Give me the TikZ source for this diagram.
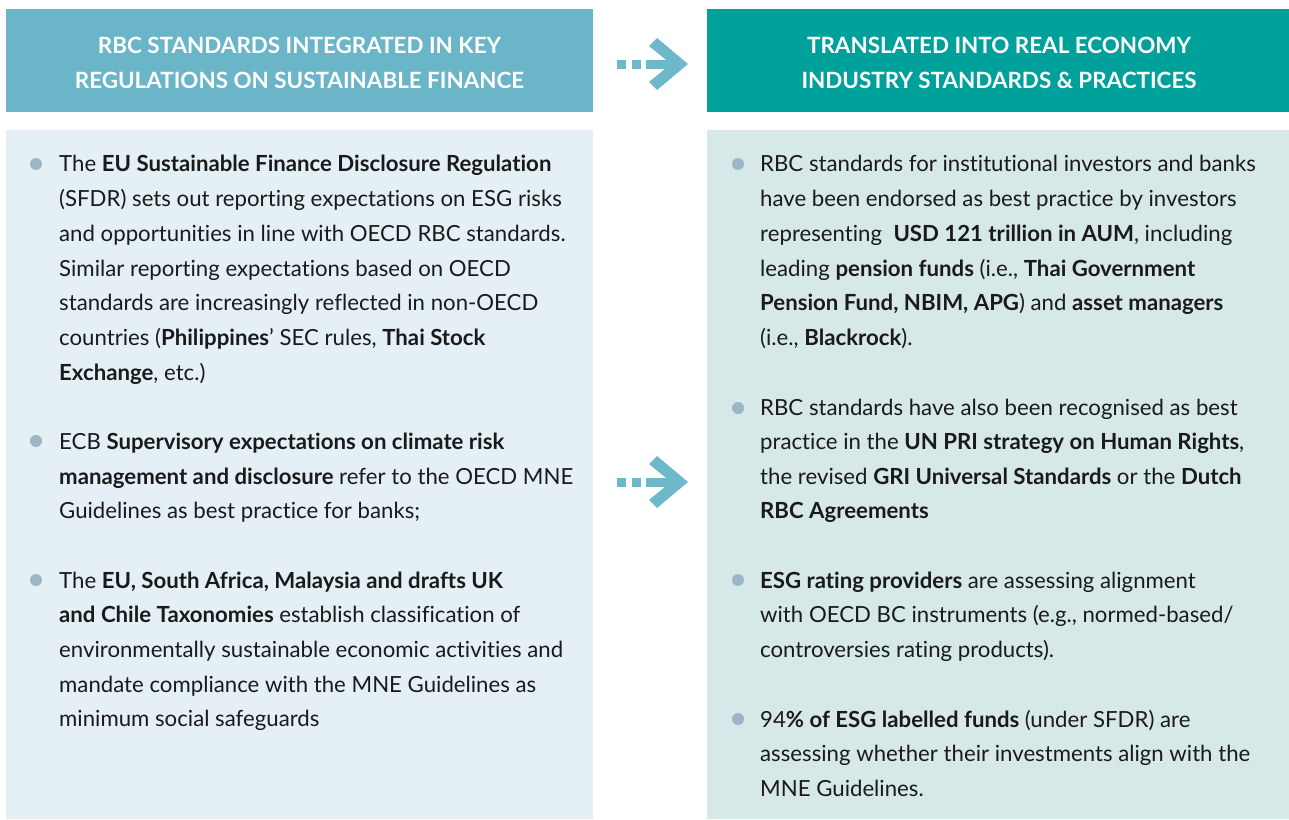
\documentclass[tikz,border=0pt]{standalone}
\usepackage{fontspec}
\setmainfont{Lato}[Ligatures=NoCommon]
\definecolor{hdrblue}{HTML}{6AB5C8}
\definecolor{hdrteal}{HTML}{00A19A}
\definecolor{bodyblue}{HTML}{E4F0F5}
\definecolor{bodyteal}{HTML}{D6E8E8}
\definecolor{bulletc}{HTML}{9DB6C6}
\definecolor{arrowc}{HTML}{6DB8CA}
\definecolor{txt}{HTML}{1A1A1A}
\tikzset{
  ln/.style={anchor=base west, inner sep=0pt, text=txt, font=\fontsize{22.2}{30}\selectfont},
  hd/.style={anchor=base, inner sep=0pt, text=white, font=\fontsize{22.4}{30}\selectfont\bfseries},
  dot/.style={circle, fill=bulletc, minimum size=12pt, inner sep=0pt},
}
\newcommand{\mkarrow}[1]{%
  \begin{scope}[yshift=#1]
    \fill[arrowc] (617,59.5) rectangle (626,68.5);
    \fill[arrowc] (632,59.5) rectangle (641,68.5);
    \fill[arrowc] (646,59.5) rectangle (674,68.5);
    \fill[arrowc] (649,46) -- (657,38) -- (688,64) -- (657,90) -- (649,82) -- (671,64) -- cycle;
  \end{scope}}
\begin{document}
\begin{tikzpicture}[x=1pt,y=-1pt]
\useasboundingbox (0,0) rectangle (1289,819);
\fill[white] (0,0) rectangle (1289,819);
% boxes
\fill[hdrblue] (6,9) rectangle (593,112);
\fill[hdrteal] (707,9) rectangle (1289,112);
\fill[bodyblue] (6,130) rectangle (593,819);
\fill[bodyteal] (707,130) rectangle (1289,819);
% headers
\node[hd] (h1a) at (299.5,53) {RBC STANDARDS INTEGRATED IN KEY};
\node[hd] (h1b) at (299.5,88) {REGULATIONS ON SUSTAINABLE FINANCE};
\node[hd] (h2a) at (999,53) {TRANSLATED INTO REAL ECONOMY};
\node[hd] (h2b) at (999,88) {INDUSTRY STANDARDS \& PRACTICES};
% arrows
\mkarrow{0}
\mkarrow{-418}
% left bullets
\node[dot] (lb1) at (36,164) {};
\node[dot] (lb2) at (36,441) {};
\node[dot] (lb3) at (36,580) {};
\node[ln] (l1a) at (59,171) {The \textbf{EU Sustainable Finance Disclosure Regulation}};
\node[ln] (l1b) at (59,206) {(SFDR) sets out reporting expectations on ESG risks};
\node[ln] (l1c) at (59,241) {and opportunities in line with OECD RBC standards.};
\node[ln] (l1d) at (59,276) {Similar reporting expectations based on OECD};
\node[ln] (l1e) at (59,310) {standards are increasingly reflected in non-OECD};
\node[ln] (l1f) at (59,345) {countries (\textbf{Philippines}’ SEC rules, \textbf{Thai Stock}};
\node[ln] (l1g) at (59,380) {\textbf{Exchange}, etc.)};
\node[ln] (l2a) at (59,449) {ECB \textbf{Supervisory expectations on climate risk}};
\node[ln] (l2b) at (59,484) {\textbf{management and disclosure} refer to the OECD MNE};
\node[ln] (l2c) at (59,518) {Guidelines as best practice for banks;};
\node[ln] (l3a) at (59,588) {The \textbf{EU, South Africa, Malaysia and drafts UK}};
\node[ln] (l3b) at (59,622) {\textbf{and Chile Taxonomies} establish classification of};
\node[ln] (l3c) at (59,657) {environmentally sustainable economic activities and};
\node[ln] (l3d) at (59,692) {mandate compliance with the MNE Guidelines as};
\node[ln] (l3e) at (59,726) {minimum social safeguards};
% right bullets
\node[dot] (rb1) at (738,164) {};
\node[dot] (rb2) at (738,408) {};
\node[dot] (rb3) at (738,580) {};
\node[dot] (rb4) at (738,719) {};
\node[ln] (r1a) at (760,171) {RBC standards for institutional investors and banks};
\node[ln] (r1b) at (760,206) {have been endorsed as best practice by investors};
\node[ln] (r1c) at (760,241) {representing\ \ \textbf{USD 121 trillion in AUM}, including};
\node[ln] (r1d) at (760,276) {leading \textbf{pension funds} (i.e., \textbf{Thai Government}};
\node[ln] (r1e) at (760,310) {\textbf{Pension Fund, NBIM, APG}) and \textbf{asset managers}};
\node[ln] (r1f) at (760,345) {(i.e., \textbf{Blackrock}).};
\node[ln] (r2a) at (760,415) {RBC standards have also been recognised as best};
\node[ln] (r2b) at (760,449) {practice in the \textbf{UN PRI strategy on Human Rights},};
\node[ln] (r2c) at (760,484) {the revised \textbf{GRI Universal Standards} or the \textbf{Dutch}};
\node[ln] (r2d) at (760,518) {\textbf{RBC Agreements}};
\node[ln] (r3a) at (760,588) {\textbf{ESG rating providers} are assessing alignment};
\node[ln] (r3b) at (760,622) {with OECD BC instruments (e.g., normed-based/};
\node[ln] (r3c) at (760,657) {controversies rating products).};
\node[ln] (r4a) at (760,727) {94\textbf{\% of ESG labelled funds} (under SFDR) are};
\node[ln] (r4b) at (760,761) {assessing whether their investments align with the};
\node[ln] (r4c) at (760,796) {MNE Guidelines.};
\end{tikzpicture}
\end{document}
